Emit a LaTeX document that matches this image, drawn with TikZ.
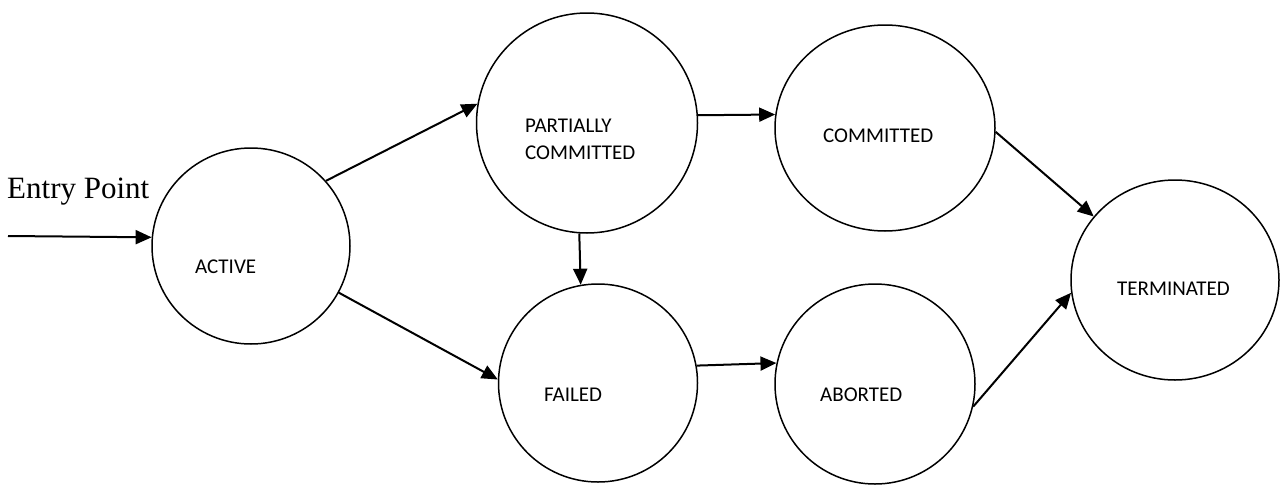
\documentclass[tikz,border=0pt]{standalone}
\usepackage{fontspec}
\setmainfont{Liberation Serif}
\newfontfamily\statefont{Carlito}
\usetikzlibrary{arrows.meta,shapes.geometric}
\begin{document}
\begin{tikzpicture}[x=1pt,y=-1pt,
  state/.style={draw=black,line width=1.5pt,ellipse,inner sep=0pt},
  statetext/.style={anchor=base west,inner sep=0pt,font=\statefont\fontsize{21}{25}\selectfont},
  trans/.style={draw=black,line width=2pt,-{Triangle[length=16pt,width=14pt]}}]
  \useasboundingbox (0,0) rectangle (1280,485);

  % states
  \node[state,minimum width=198pt,minimum height=196pt] (active) at (251,246) {};
  \node[state,minimum width=221pt,minimum height=220pt] (pc) at (587,123) {};
  \node[state,minimum width=199pt,minimum height=198pt] (failed) at (598,383) {};
  \node[state,minimum width=200pt,minimum height=200pt] (aborted) at (875,384) {};
  \node[state,minimum width=220pt,minimum height=206pt] (committed) at (885,128) {};
  \node[state,minimum width=208pt,minimum height=200pt] (terminated) at (1175,280) {};

  % state labels
  \node[statetext] (activetext) at (195,273.5) {ACTIVE};
  \node[statetext] (pctext1) at (525,132.5) {PARTIALLY};
  \node[statetext] (pctext2) at (525,159.5) {COMMITTED};
  \node[statetext] (failedtext) at (544,401.5) {FAILED};
  \node[statetext] (abortedtext) at (820,401.5) {ABORTED};
  \node[statetext] (committedtext) at (823,142.5) {COMMITTED};
  \node[statetext] (terminatedtext) at (1117,295.5) {TERMINATED};

  % entry
  \node[anchor=base west,inner sep=0pt,font=\fontsize{31}{36}\selectfont] (entrytext) at (7,198) {Entry Point};
  \coordinate (entry) at (8,236);

  % transitions
  \draw[trans] (entry) -- (active.175);
  \draw[trans] (active.41) -- (pc.170);
  \draw[trans] (active.-28) -- (failed.178);
  \draw[trans] (pc.266) -- (failed.100);
  \draw[trans] (pc.4) -- (committed.173);
  \draw[trans] (failed.10) -- (aborted.168);
  \draw[trans] (committed.-2) -- (terminated.142);
  \draw[trans] (aborted.-13) -- (terminated.187);
\end{tikzpicture}
\end{document}
